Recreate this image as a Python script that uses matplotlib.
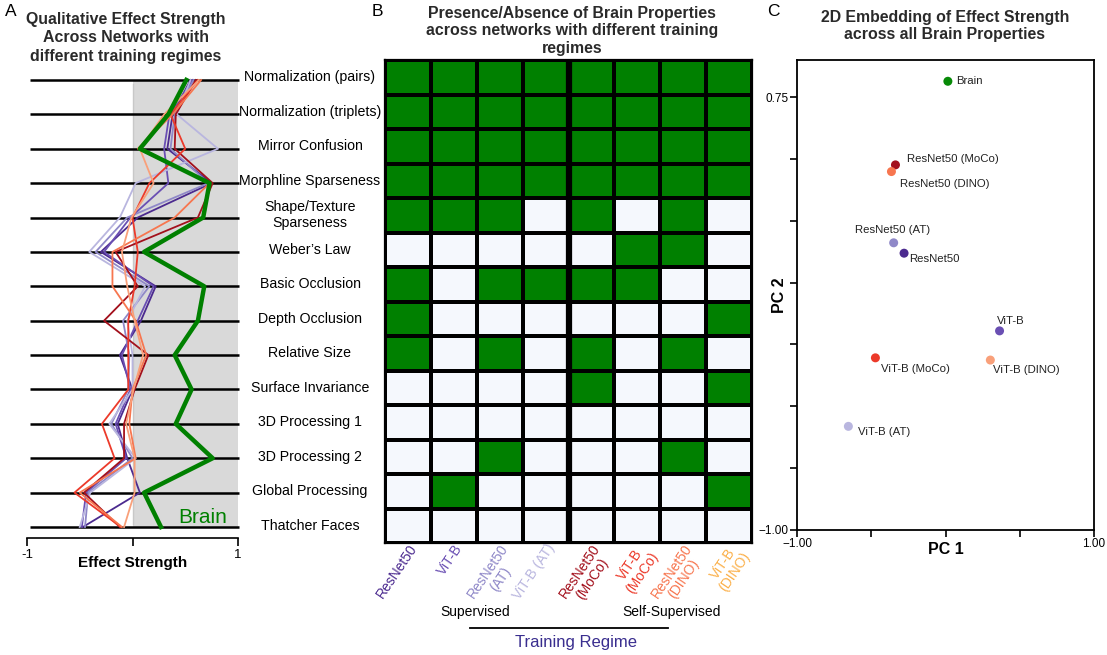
import matplotlib
matplotlib.use("Agg")
import matplotlib.pyplot as plt
import matplotlib.transforms as mtransforms
import numpy as np
from matplotlib.colors import ListedColormap

plt.rcParams['font.family'] = ['Liberation Sans', 'DejaVu Sans']

# ---------------- data ----------------
properties = [
    "Normalization (pairs)", "Normalization (triplets)", "Mirror Confusion",
    "Morphline Sparseness", "Shape/Texture\nSparseness", "Weber\u2019s Law",
    "Basic Occlusion", "Depth Occlusion", "Relative Size", "Surface Invariance",
    "3D Processing 1", "3D Processing 2", "Global Processing", "Thatcher Faces",
]

networks = ["ResNet50", "ViT-B", "ResNet50 (AT)", "ViT-B (AT)",
            "ResNet50 (MoCo)", "ViT-B (MoCo)", "ResNet50 (DINO)", "ViT-B (DINO)"]
tick_labels = ["ResNet50", "ViT-B", "ResNet50\n(AT)", "ViT-B (AT)",
               "ResNet50\n(MoCo)", "ViT-B\n(MoCo)", "ResNet50\n(DINO)", "ViT-B\n(DINO)"]
label_colors = ["#4b2a8f", "#6a4fb3", "#8f88c8", "#b9b6df",
                "#a3101c", "#ec3a2a", "#f7764f", "#fbb04a"]
mark_colors = ["#4b2a8f", "#6a4fb3", "#8f88c8", "#b9b6df",
               "#a3101c", "#ec3a2a", "#f7764f", "#f9a07a"]

# effect strength per property (top to bottom)
brain_effect = [0.51, 0.34, 0.07, 0.73, 0.67, 0.11, 0.68, 0.62, 0.40, 0.56, 0.41, 0.76, 0.11, 0.27]
resnet50_effect = [0.55, 0.38, 0.33, 0.75, 0.05, -0.30, 0.22, 0.08, -0.12, 0.00, -0.14, -0.05, 0.07, -0.47]
vitb_effect = [0.57, 0.35, 0.30, 0.34, -0.02, -0.27, 0.20, 0.05, -0.10, -0.02, -0.16, -0.06, -0.44, -0.48]
resnet50_at_effect = [0.58, 0.40, 0.36, 0.72, -0.05, -0.35, 0.16, -0.09, -0.03, -0.04, -0.20, 0.00, -0.42, -0.45]
vitb_at_effect = [0.55, 0.42, 0.81, 0.03, -0.12, -0.41, 0.12, -0.05, 0.00, 0.00, -0.22, 0.03, -0.40, -0.50]
resnet50_moco_effect = [0.60, 0.41, 0.40, 0.76, 0.62, -0.16, 0.05, -0.27, 0.15, 0.02, -0.08, -0.08, -0.46, -0.12]
vitb_moco_effect = [0.62, 0.36, 0.50, 0.16, 0.00, 0.05, 0.02, -0.04, -0.04, -0.04, -0.29, -0.17, -0.55, -0.11]
resnet50_dino_effect = [0.65, 0.38, 0.05, 0.73, 0.40, -0.19, -0.19, 0.03, 0.13, 0.00, -0.03, 0.03, -0.50, -0.10]
vitb_dino_effect = [0.63, 0.30, 0.07, 0.20, -0.01, -0.10, -0.05, 0.02, 0.10, 0.01, -0.06, 0.02, 0.02, -0.08]
network_effects = [resnet50_effect, vitb_effect, resnet50_at_effect, vitb_at_effect,
                   resnet50_moco_effect, vitb_moco_effect, resnet50_dino_effect, vitb_dino_effect]

# presence (1) / absence (0) of each property, one row per property, columns follow `networks`
presence = [
    [1, 1, 1, 1, 1, 1, 1, 1],
    [1, 1, 1, 1, 1, 1, 1, 1],
    [1, 1, 1, 1, 1, 1, 1, 1],
    [1, 1, 1, 1, 1, 1, 1, 1],
    [1, 1, 1, 0, 1, 0, 1, 0],
    [0, 0, 0, 0, 0, 1, 1, 0],
    [1, 0, 1, 1, 1, 1, 0, 0],
    [1, 0, 0, 0, 0, 0, 0, 1],
    [1, 0, 1, 0, 1, 0, 1, 0],
    [0, 0, 0, 0, 1, 0, 0, 1],
    [0, 0, 0, 0, 0, 0, 0, 0],
    [0, 0, 1, 0, 0, 0, 1, 0],
    [0, 1, 0, 0, 0, 0, 0, 1],
    [0, 0, 0, 0, 0, 0, 0, 0],
]

# 2D embedding
embed_names = ["Brain"] + networks
embed_colors = ["#078a07"] + mark_colors
pc1 = [0.016, -0.279, 0.364, -0.349, -0.654, -0.337, -0.472, -0.364, 0.302]
pc2 = [0.814, 0.119, -0.195, 0.161, -0.581, 0.476, -0.304, 0.449, -0.313]
label_offsets = [(6, 0), (4, -4), (-2, 7), (-1, 9), (7, -4), (8, 4), (4, -8), (6, -9), (2, -7)]
label_ha = ["left", "left", "left", "center", "left", "left", "left", "left", "left"]

GREEN = "#008000"
TITLE_SIZE = 11.4
W, H = 1107, 655
fig = plt.figure(figsize=(W / 100, H / 100), dpi=100)


def fx(px):
    return px / W


def fy(py):
    return 1 - py / H


# ---------------- panel A ----------------
nrows = len(properties)
rows = np.arange(nrows)
axA = fig.add_axes([fx(27), fy(538), fx(238) - fx(27), fy(70) - fy(538)])
axA.set_xlim(-1, 1)
axA.set_ylim(13.32, -0.29)
axA.fill_between([0, 1], [0, 0], [nrows - 1, nrows - 1], color="#d9d9d9", zorder=0, lw=0)
axA.axvline(0.0, ymin=0.03, ymax=0.97, color="#c8c8c8", lw=1, zorder=0)
axA.hlines(rows, -0.97, 1.01, color="black", lw=1.8, zorder=1, clip_on=False)
for vals, col in zip(network_effects, mark_colors):
    axA.plot(vals, rows, color=col, lw=1.3, zorder=2)
axA.plot(brain_effect, rows, color=GREEN, lw=3.2, zorder=3)
axA.text(0.9, 12.71, "Brain", color=GREEN, fontsize=15, ha="right", va="center", zorder=4)
for s in ["top", "right", "left"]:
    axA.spines[s].set_visible(False)
axA.spines["bottom"].set_linewidth(1.2)
axA.set_yticks([])
axA.set_xticks([-1, 0, 1])
axA.set_xticklabels(["-1", "", "1"], fontsize=9.5)
axA.tick_params(axis="x", length=6, width=1.2, pad=2)
axA.set_xlabel("Effect Strength", fontsize=11, fontweight="bold", labelpad=-4)
fig.text(fx(126), fy(38), "Qualitative Effect Strength\nAcross Networks with\ndifferent training regimes",
         ha="center", va="center", fontsize=TITLE_SIZE, fontweight="bold", color="#2a2a2a",
         linespacing=1.3)
fig.text(fx(5), fy(12), "A", fontsize=12.5, va="center")

# ---------------- panel B ----------------
axB = fig.add_axes([fx(385), fy(543), fx(752) - fx(385), fy(60) - fy(543)])
cmap = ListedColormap(["#f5f8fd", GREEN])
grid = np.array(presence)
axB.pcolormesh(np.arange(len(networks) + 1), np.arange(nrows + 1), grid, cmap=cmap,
               vmin=0, vmax=1, edgecolors="black", linewidth=1.6)
axB.set_xlim(0, len(networks))
axB.set_ylim(nrows, 0)
axB.axvline(4, color="black", lw=4.5)
for s in axB.spines.values():
    s.set_linewidth(1.6)
axB.set_yticks([])
axB.set_xticks(np.arange(len(networks)) + 0.5)
axB.set_xticklabels(tick_labels, rotation=56, ha="right", va="top",
                    rotation_mode="anchor", fontsize=10, multialignment="center",
                    linespacing=1.05)
for lbl, col in zip(axB.get_xticklabels(), label_colors):
    lbl.set_color(col)
axB.tick_params(axis="x", length=0, pad=-1)
row_trans = mtransforms.blended_transform_factory(fig.transFigure, axB.transData)
for i, name in enumerate(properties):
    axB.text(fx(310), i + 0.5, name, transform=row_trans,
             ha="center", va="center", fontsize=10.2, linespacing=1.2)
fig.text(fx(572), fy(31), "Presence/Absence of Brain Properties\nacross networks with different training\nregimes",
         ha="center", va="center", fontsize=TITLE_SIZE, fontweight="bold", color="#2a2a2a",
         linespacing=1.17)
fig.text(fx(372), fy(12), "B", fontsize=12.5, va="center")
fig.text(fx(475), fy(612), "Supervised", ha="center", va="center", fontsize=10)
fig.text(fx(672), fy(612), "Self-Supervised", ha="center", va="center", fontsize=10)
fig.add_artist(plt.Line2D([fx(470), fx(668)], [fy(628), fy(628)], color="black", lw=1.3))
fig.text(fx(576), fy(643), "Training Regime", ha="center", va="center", fontsize=12,
         color="#3a2e8f")

# ---------------- panel C ----------------
axC = fig.add_axes([fx(797), fy(530), fx(1094) - fx(797), fy(60) - fy(530)])
axC.set_xlim(-1, 1)
axC.set_ylim(-1, 0.9)
axC.scatter(pc1, pc2, c=embed_colors, s=42, zorder=3, linewidths=0)
for name, x, y, off, ha in zip(embed_names, pc1, pc2, label_offsets, label_ha):
    axC.annotate(name, (x, y), xytext=off, textcoords="offset points",
                 ha=ha, va="center", fontsize=8.2, color="#222222")
axC.set_xticks([-1, -0.5, 0, 0.5, 1])
axC.set_xticklabels(["\u22121.00", "", "", "", "1.00"], fontsize=8.5)
axC.set_yticks([-1, -0.75, -0.5, -0.25, 0, 0.25, 0.5, 0.75])
axC.set_yticklabels(["\u22121.00", "", "", "", "", "", "", "0.75"], fontsize=8.5)
axC.tick_params(length=5, width=1.2, pad=1)
for s in axC.spines.values():
    s.set_linewidth(1.3)
axC.text(0.5, -0.025, "PC 1", transform=axC.transAxes, ha="center", va="top",
         fontsize=11.5, fontweight="bold")
axC.text(-0.06, 0.5, "PC 2", transform=axC.transAxes, ha="center", va="center",
         rotation=90, fontsize=11.5, fontweight="bold")
fig.text(fx(945), fy(26), "2D Embedding of Effect Strength\nacross all Brain Properties",
         ha="center", va="center", fontsize=TITLE_SIZE, fontweight="bold", color="#2a2a2a",
         linespacing=1.2)
fig.text(fx(767), fy(12), "C", fontsize=12.5, va="center")

fig.savefig("out.png", dpi=100)
